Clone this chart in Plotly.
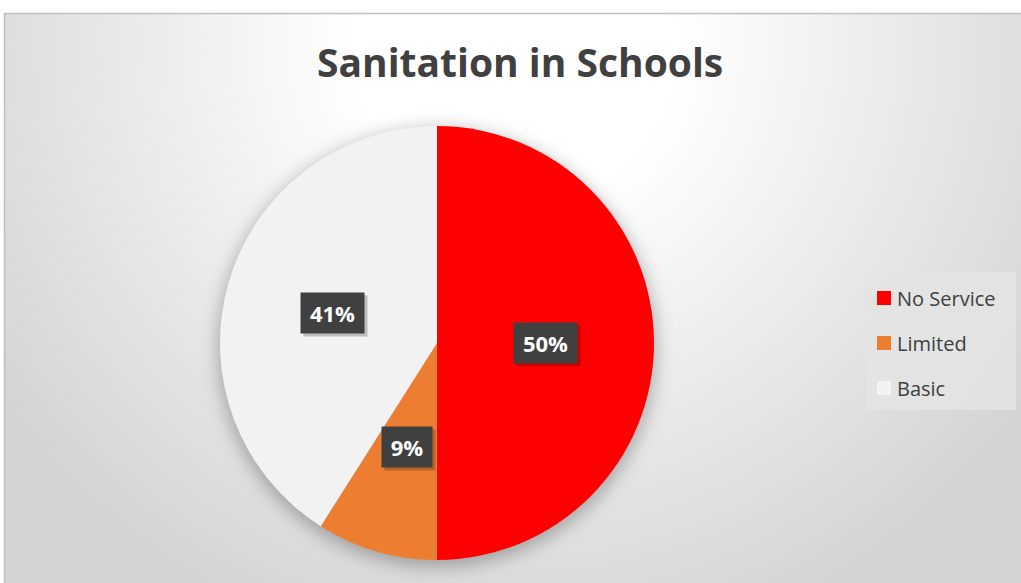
import base64
import math
import plotly.graph_objects as go

# ---- data ----
labels = ["No Service", "Limited", "Basic"]
values = [50, 9, 41]
colors = ["#FF0000", "#ED7D31", "#F2F2F2"]
title_text = "Sanitation in Schools"

# ---- layout constants (style) ----
W, H = 1021, 583
CX, CY, R = 437, 343, 217
FONT = "Open Sans"
TXT = "#404040"

# background: radial gradient + soft pie shadow, as an SVG image
svg = f'''<svg xmlns="http://www.w3.org/2000/svg" width="{W}" height="{H}" viewBox="0 0 {W} {H}">
<defs>
<radialGradient id="g" gradientUnits="userSpaceOnUse" cx="515" cy="45" r="620" fx="515" fy="45">
<stop offset="0" stop-color="#ffffff"/>
<stop offset="0.25" stop-color="#ffffff"/>
<stop offset="1" stop-color="#d4d4d4"/>
</radialGradient>
<filter id="b" x="-30%" y="-30%" width="160%" height="160%"><feGaussianBlur stdDeviation="9"/></filter>
</defs>
<rect x="0" y="0" width="{W}" height="{H}" fill="#ffffff"/>
<rect x="4.5" y="13.5" width="{W}" height="{H}" fill="url(#g)" stroke="#bfbfbf" stroke-width="1.5"/>
<circle cx="{CX}" cy="{CY+5}" r="{R+2}" fill="#000" fill-opacity="0.28" filter="url(#b)"/>
</svg>'''
src = "data:image/svg+xml;base64," + base64.b64encode(svg.encode()).decode()

fig = go.Figure()
fig.add_trace(go.Pie(
    labels=labels, values=values, sort=False, direction="clockwise", rotation=0,
    marker=dict(colors=colors, line=dict(width=0)),
    textinfo="none", hoverinfo="label+percent", showlegend=False,
    domain=dict(x=[(CX - R) / W, (CX + R) / W], y=[1 - (CY + R) / H, 1 - (CY - R) / H]),
))

annotations = []
total = sum(values)
cum = 0
for v in values:
    mid = (cum + v / 2) / total * 2 * math.pi
    cum += v
    px = CX + 0.5 * R * math.sin(mid)
    py = CY - 0.5 * R * math.cos(mid)
    txt = f"{round(v / total * 100)}%"
    w = 13 * len(txt) + 16
    # shadow
    annotations.append(dict(
        x=(px + 3) / W, y=1 - (py + 3) / H, xref="paper", yref="paper", showarrow=False,
        text="", width=w, height=32, borderpad=4,
        bgcolor="rgba(0,0,0,0.22)", xanchor="center", yanchor="middle",
    ))
    annotations.append(dict(
        x=px / W, y=1 - py / H, xref="paper", yref="paper", showarrow=False,
        text=f"<b>{txt}</b>", width=w, height=32, borderpad=4,
        font=dict(family=FONT, size=22, color="white"),
        bgcolor="#404040", xanchor="center", yanchor="middle",
    ))

# manual legend
shapes = [dict(type="rect", xref="paper", yref="paper",
               x0=866 / W, x1=1016 / W, y0=1 - 410 / H, y1=1 - 272 / H,
               fillcolor="rgba(228,228,228,0.85)", line=dict(width=0), layer="below")]
for i, (lab, col) in enumerate(zip(labels, colors)):
    yc = 298 + 45 * i
    shapes.append(dict(type="rect", xref="paper", yref="paper",
                       x0=877 / W, x1=891 / W, y0=1 - (yc + 7) / H, y1=1 - (yc - 7) / H,
                       fillcolor=col, line=dict(width=0)))
    annotations.append(dict(x=895 / W, y=1 - yc / H, xref="paper", yref="paper",
                            showarrow=False, text=lab, xanchor="left", yanchor="middle",
                            font=dict(family=FONT, size=20, color=TXT)))

annotations.append(dict(x=520 / W, y=1 - 62 / H, xref="paper", yref="paper", showarrow=False,
                        text=f"<b>{title_text}</b>", xanchor="center", yanchor="middle",
                        font=dict(family=FONT, size=39, color=TXT)))

fig.update_layout(
    width=W, height=H, margin=dict(l=0, r=0, t=0, b=0),
    paper_bgcolor="white", plot_bgcolor="white",
    images=[dict(source=src, xref="paper", yref="paper", x=0, y=1, sizex=1, sizey=1,
                 sizing="stretch", xanchor="left", yanchor="top", layer="below")],
    shapes=shapes, annotations=annotations,
)
fig.write_html("out.html")
